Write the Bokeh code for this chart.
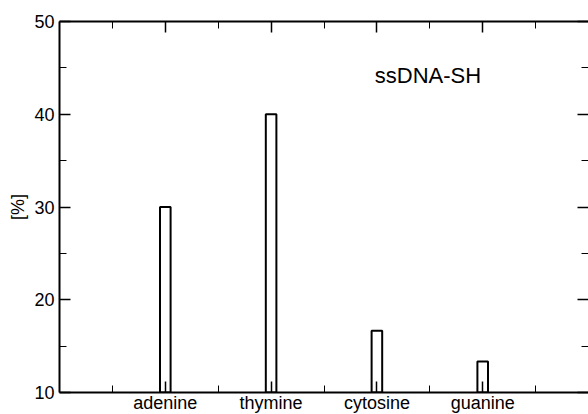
from bokeh.plotting import figure
from bokeh.models import Range1d, FixedTicker, LinearAxis, Label, ColumnDataSource
from bokeh.embed import file_html
from bokeh.resources import INLINE

categories = ["adenine", "thymine", "cytosine", "guanine"]
positions = [1, 2, 3, 4]
values = [30.0, 40.0, 16.67, 13.33]
y_ticks = [10, 20, 30, 40, 50]
y_minor = [15, 25, 35, 45]
x_minor = [0.5, 1.5, 2.5, 3.5, 4.5]
title_text = "ssDNA-SH"
y_label = "[%]"

FONT = "Liberation Sans"

p = figure(width=588, height=415, output_backend="svg", toolbar_location=None,
           x_range=Range1d(0, 5), y_range=Range1d(10, 50),
           min_border_left=59, min_border_top=21, min_border_bottom=20, min_border_right=0,
           x_axis_location=None, y_axis_location=None)
p.outline_line_color = None
p.grid.visible = False
p.background_fill_color = "white"
p.border_fill_color = "white"

src = ColumnDataSource(dict(x=positions, top=values))
p.vbar(x="x", top="top", bottom=10, width=0.1, source=src,
       fill_color="white", line_color="black", line_width=2)

xt = FixedTicker(ticks=positions, minor_ticks=x_minor)
yt = FixedTicker(ticks=y_ticks, minor_ticks=y_minor)

def style(ax, labels=True):
    ax.major_tick_in = 11
    ax.major_tick_out = 0
    ax.minor_tick_in = 7
    ax.minor_tick_out = 0
    ax.major_tick_line_color = "black"
    ax.major_tick_line_width = 1.5
    ax.minor_tick_line_color = "black"
    ax.minor_tick_line_width = 1
    ax.axis_line_color = "black"
    ax.axis_line_width = 2
    ax.major_label_text_font = FONT
    ax.major_label_text_font_size = "18px"
    ax.major_label_text_color = "black"
    if not labels:
        ax.major_label_standoff = 0
        ax.major_label_text_font_size = "1px"

bottom = LinearAxis(ticker=xt, major_label_overrides={pos: c for pos, c in zip(positions, categories)})
style(bottom)
bottom.major_label_standoff = 0
p.add_layout(bottom, "below")

top = LinearAxis(ticker=xt, major_label_overrides={pos: "" for pos in positions})
style(top, labels=False)
p.add_layout(top, "above")

left = LinearAxis(ticker=yt, axis_label=y_label)
style(left)
left.major_label_standoff = 5
left.axis_label_text_font = FONT
left.axis_label_text_font_size = "18px"
left.axis_label_text_font_style = "normal"
left.axis_label_text_color = "black"
left.axis_label_standoff = 3
p.add_layout(left, "left")

right = LinearAxis(ticker=yt, major_label_overrides={t: "" for t in y_ticks})
style(right, labels=False)
right.axis_line_color = None
p.add_layout(right, "right")

p.add_layout(Label(x=2.98, y=44.15, text=title_text, text_font=FONT, text_font_size="22px",
                   text_color="black", text_baseline="alphabetic", text_align="left"))

open("out.html", "w").write(file_html(p, INLINE))
